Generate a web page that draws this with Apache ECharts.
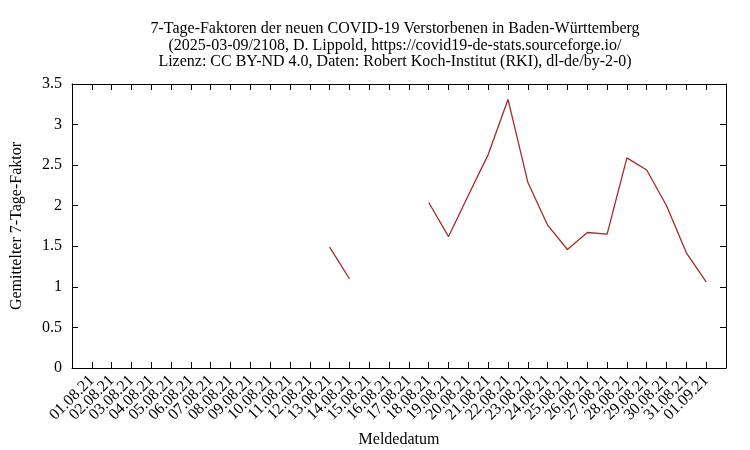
<!DOCTYPE html>
<html><head><meta charset="utf-8">
<script src="https://cdn.jsdelivr.net/npm/echarts@6/dist/echarts.min.js"></script>
<style>html,body{margin:0;padding:0;background:#fff}#c{width:750px;height:450px}</style>
</head><body><div id="c"></div>
<script>
var categories = ["01.08.21","02.08.21","03.08.21","04.08.21","05.08.21","06.08.21","07.08.21","08.08.21","09.08.21","10.08.21","11.08.21","12.08.21","13.08.21","14.08.21","15.08.21","16.08.21","17.08.21","18.08.21","19.08.21","20.08.21","21.08.21","22.08.21","23.08.21","24.08.21","25.08.21","26.08.21","27.08.21","28.08.21","29.08.21","30.08.21","31.08.21","01.09.21"];
var factors = [null,null,null,null,null,null,null,null,null,null,null,null,1.49,1.10,null,null,null,2.04,1.62,2.13,2.63,3.31,2.29,1.76,1.46,1.67,1.65,2.59,2.44,2.00,1.42,1.06];
var yTicks = [0,0.5,1,1.5,2,2.5,3,3.5];
var titleLines = ["7-Tage-Faktoren der neuen COVID-19 Verstorbenen in Baden-Württemberg","(2025-03-09/2108, D. Lippold, https://covid19-de-stats.sourceforge.io/","Lizenz: CC BY-ND 4.0, Daten: Robert Koch-Institut (RKI), dl-de/by-2-0)"];

var F = "'Liberation Serif','DejaVu Serif',serif";
var chart = echarts.init(document.getElementById('c'));
var data = factors.map(function(v,i){return [i, v==null?'-':v];});
var axisLineStyle = {show:true, onZero:false, lineStyle:{color:'#000', width:1}};
var tick = {inside:true, length:6, lineStyle:{color:'#000'}};
chart.setOption({
  animation:false,
  title:{text:titleLines.join('\n'), left:390, top:16, textAlign:'center',
    textStyle:{fontFamily:F, fontSize:16, fontWeight:'normal', color:'#000', lineHeight:16.5}},
  grid:{left:72, right:24, top:84, bottom:82, containLabel:false, outerBoundsMode:'none'},
  xAxis:[{type:'value', min:-1, max:categories.length, interval:1,
    axisLine:axisLineStyle, axisTick:tick, splitLine:{show:false},
    axisLabel:{rotate:45, fontFamily:F, fontSize:16, color:'#000', margin:10,
      formatter:function(v){return categories[v]||'';}},
    name:'Meldedatum', nameLocation:'middle', nameGap:64,
    nameTextStyle:{fontFamily:F, fontSize:16, color:'#000'}},
   {type:'value', position:'top', min:-1, max:categories.length, interval:1,
    axisLine:axisLineStyle, axisTick:tick, axisLabel:{show:false}, splitLine:{show:false}}],
  yAxis:[{type:'value', min:yTicks[0], max:yTicks[yTicks.length-1], interval:yTicks[1]-yTicks[0],
    axisLine:axisLineStyle, axisTick:tick, splitLine:{show:false},
    axisLabel:{fontFamily:F, fontSize:16, color:'#000', margin:10},
    name:'Gemittelter 7-Tage-Faktor', nameLocation:'middle', nameGap:47,
    nameTextStyle:{fontFamily:F, fontSize:16, color:'#000'}},
   {type:'value', position:'right', min:yTicks[0], max:yTicks[yTicks.length-1], interval:yTicks[1]-yTicks[0],
    axisLine:axisLineStyle, axisTick:tick, axisLabel:{show:false}, splitLine:{show:false}}],
  series:[{type:'line', data:data, showSymbol:false, connectNulls:false,
    lineStyle:{color:'#a52a2a', width:1.3}, itemStyle:{color:'#a52a2a'}}]
});
</script></body></html>
